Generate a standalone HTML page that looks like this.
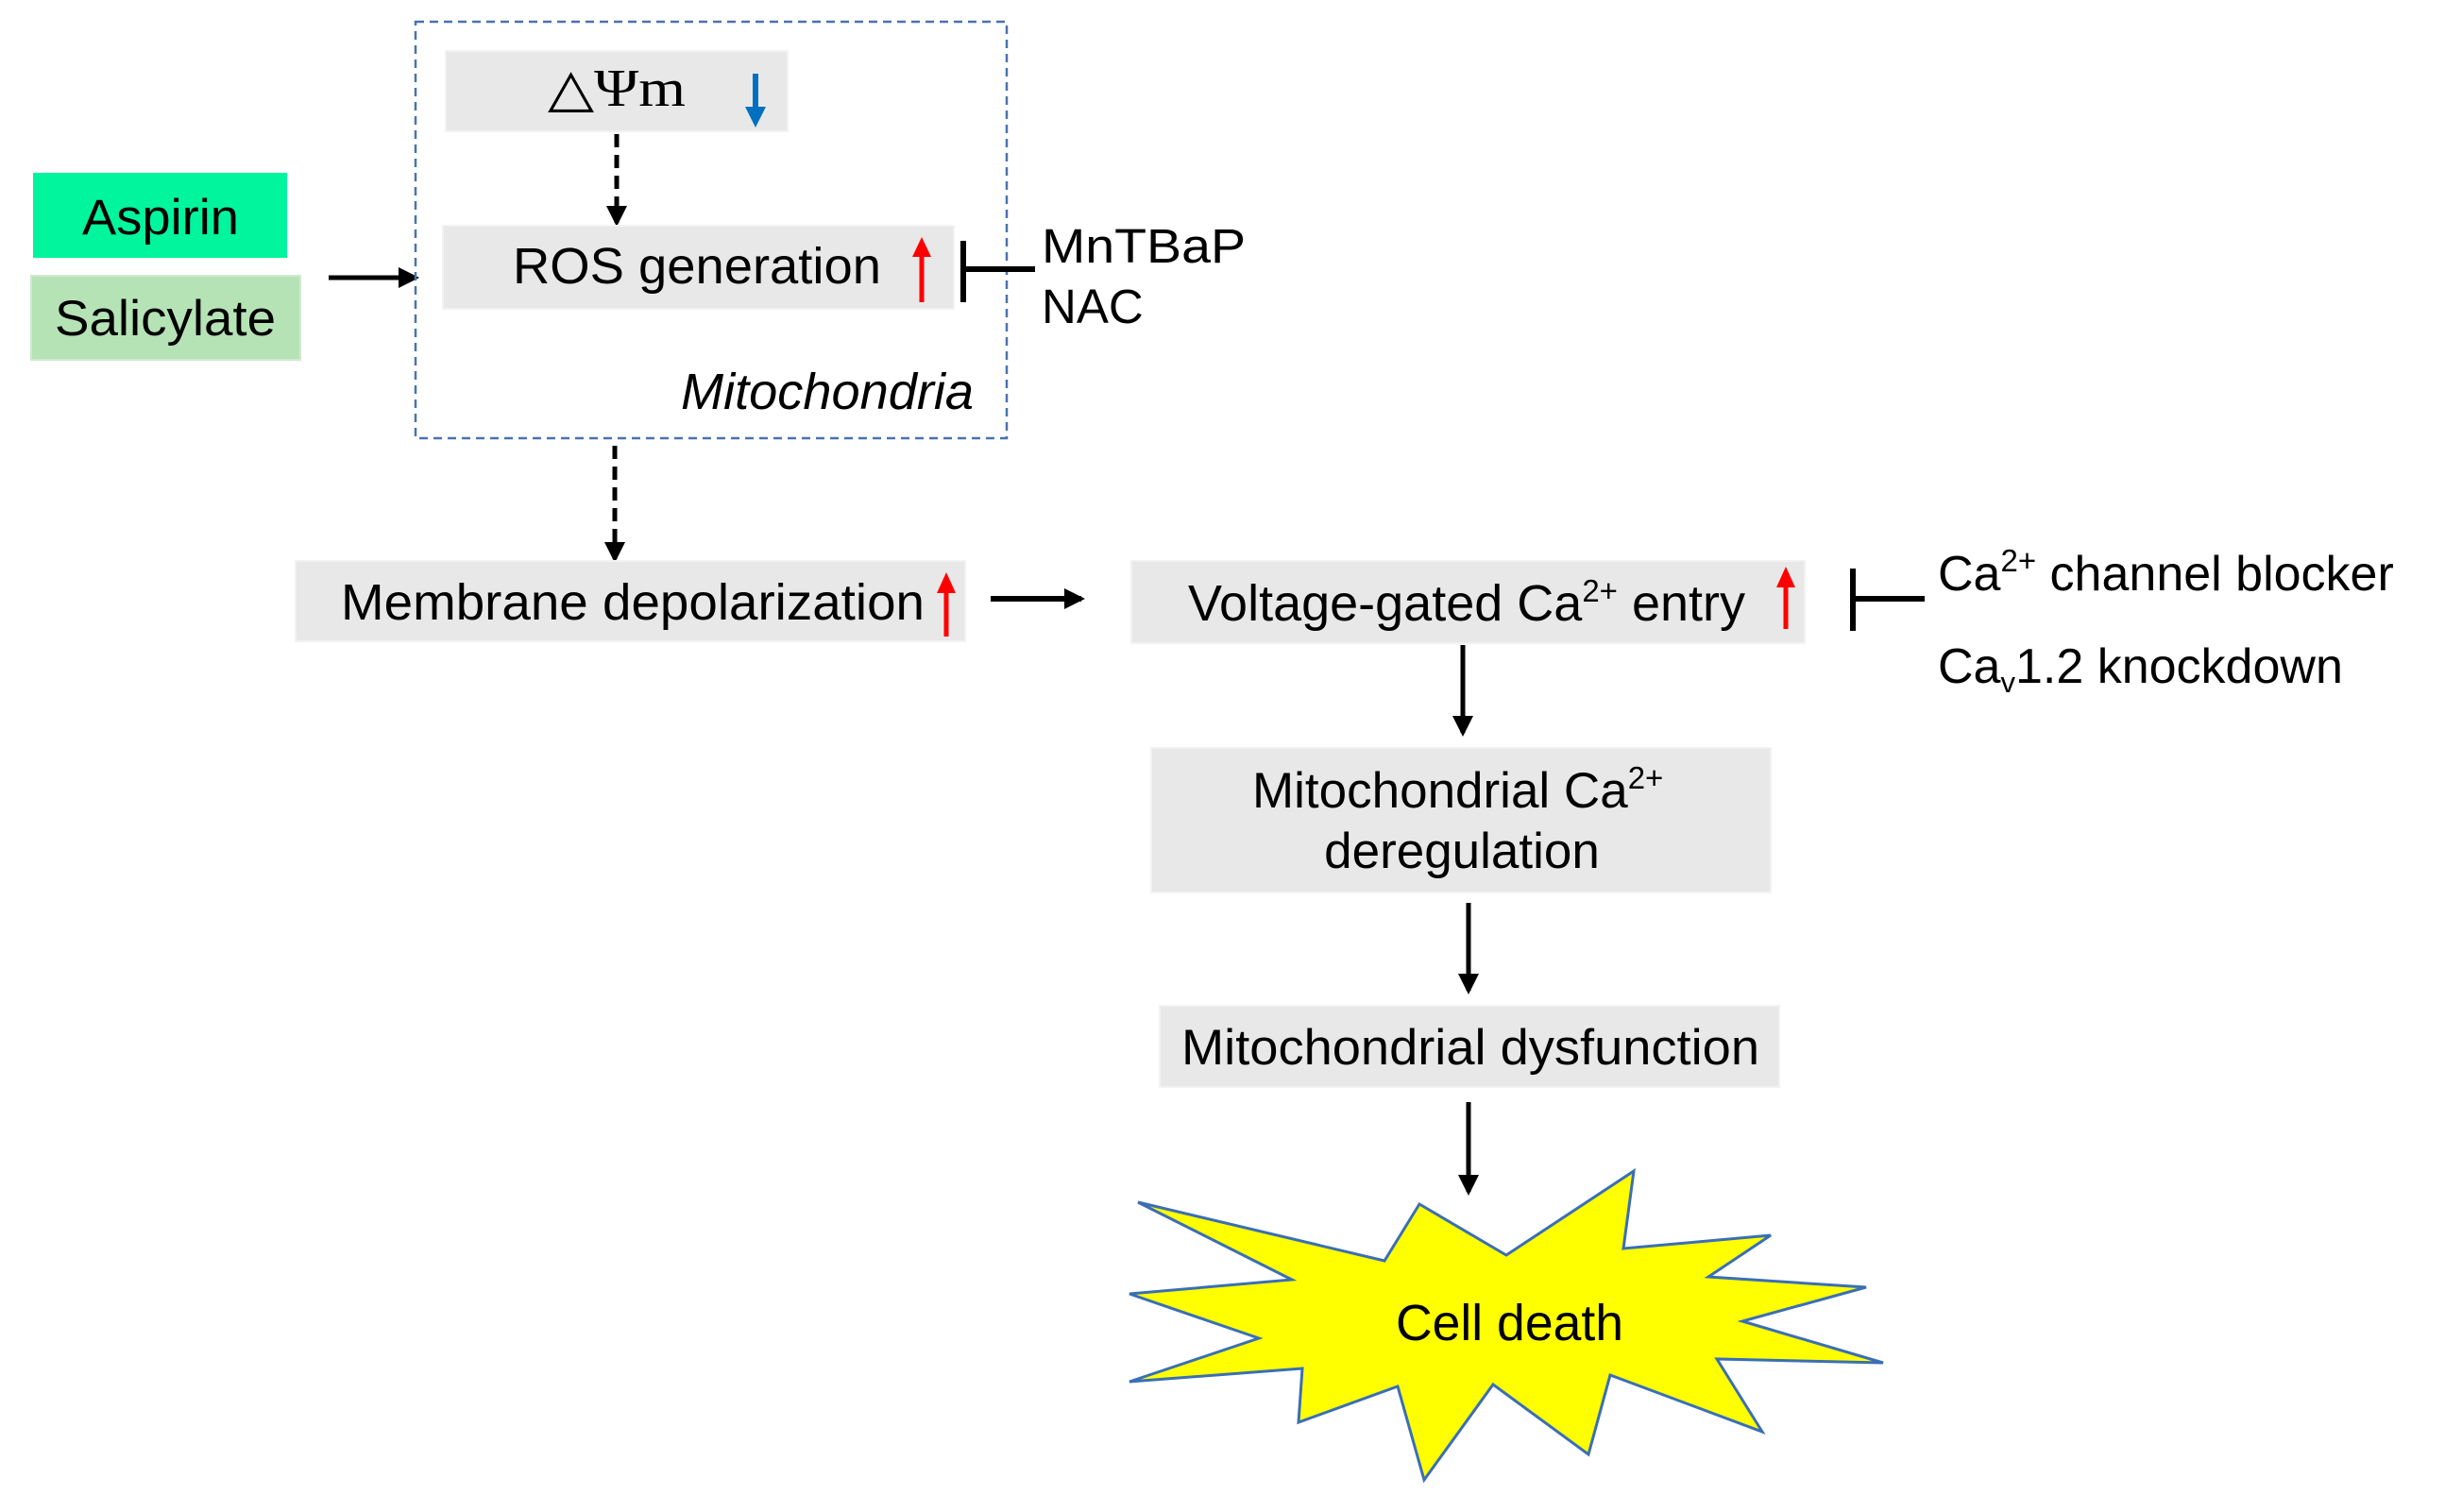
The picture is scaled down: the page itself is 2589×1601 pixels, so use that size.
<!DOCTYPE html>
<html><head><meta charset="utf-8"><style>
html,body{margin:0;padding:0;background:#fff;}
svg{display:block;font-family:"Liberation Sans",Arial,sans-serif;}
</style></head><body>
<svg width="2589" height="1601" viewBox="0 0 2589 1601" xmlns="http://www.w3.org/2000/svg">
<defs>
<marker id="ahL" markerWidth="22" markerHeight="22" refX="18" refY="11" orient="auto" markerUnits="userSpaceOnUse">
<path d="M0,0 L22,11 L0,22 Z" fill="#000"/></marker>
</defs>
<rect width="2589" height="1601" fill="#fff"/>

<!-- Aspirin / Salicylate -->
<rect x="35" y="183" width="269" height="90" fill="#00F59D"/>
<text x="87" y="248" font-size="53" textLength="166" lengthAdjust="spacingAndGlyphs">Aspirin</text>
<rect x="33" y="292" width="285" height="89" fill="#B6E3B6" stroke="#cfe9cf" stroke-width="2"/>
<text x="58" y="355" font-size="53" textLength="234" lengthAdjust="spacingAndGlyphs">Salicylate</text>
<line x1="348" y1="294" x2="440" y2="294" stroke="#000" stroke-width="5" marker-end="url(#ahL)"/>

<!-- Mitochondria box -->
<rect x="440" y="23" width="626" height="441" fill="none" stroke="#4a72b0" stroke-width="2.5" stroke-dasharray="9,6"/>
<rect x="472" y="54" width="362" height="85" fill="#e8e8e8" stroke="#f2f2f2" stroke-width="2"/>
<text x="580" y="112" font-size="56" font-family="'Liberation Serif','DejaVu Serif',serif" textLength="146" lengthAdjust="spacingAndGlyphs">△Ψm</text>
<line x1="800" y1="78" x2="800" y2="115" stroke="#0070C0" stroke-width="6"/>
<polygon points="789,113 811,113 800,135" fill="#0070C0"/>
<line x1="653" y1="142" x2="653" y2="236" stroke="#000" stroke-width="5" stroke-dasharray="14,8" marker-end="url(#ahL)"/>
<rect x="469" y="239" width="541" height="88" fill="#e8e8e8" stroke="#f2f2f2" stroke-width="2"/>
<text x="543" y="300" font-size="54" textLength="390" lengthAdjust="spacingAndGlyphs">ROS generation</text>
<line x1="976" y1="320" x2="976" y2="270" stroke="#ff0000" stroke-width="5"/>
<polygon points="966,272 986,272 976,251" fill="#ff0000"/>
<line x1="1020" y1="255" x2="1020" y2="320" stroke="#000" stroke-width="6"/>
<line x1="1020" y1="285" x2="1096" y2="285" stroke="#000" stroke-width="6"/>
<text x="1103" y="278" font-size="51" textLength="216" lengthAdjust="spacingAndGlyphs">MnTBaP</text>
<text x="1103" y="342" font-size="51">NAC</text>
<text x="721" y="433" font-size="54" font-style="italic" textLength="310" lengthAdjust="spacingAndGlyphs">Mitochondria</text>

<line x1="651" y1="472" x2="651" y2="592" stroke="#000" stroke-width="5" stroke-dasharray="14,8" marker-end="url(#ahL)"/>

<!-- Membrane -->
<rect x="313" y="594" width="709" height="85" fill="#e8e8e8" stroke="#f2f2f2" stroke-width="2"/>
<text x="361" y="656" font-size="54" textLength="618" lengthAdjust="spacingAndGlyphs">Membrane depolarization</text>
<line x1="1002" y1="674" x2="1002" y2="626" stroke="#ff0000" stroke-width="5"/>
<polygon points="992,628 1012,628 1002,606" fill="#ff0000"/>
<line x1="1049" y1="634" x2="1145" y2="634" stroke="#000" stroke-width="6" marker-end="url(#ahL)"/>

<!-- Voltage -->
<rect x="1198" y="594" width="713" height="87" fill="#e8e8e8" stroke="#f2f2f2" stroke-width="2"/>
<text x="1258" y="657" font-size="54">Voltage-gated Ca<tspan font-size="33" dy="-20">2+</tspan><tspan dy="20"> entry</tspan></text>
<line x1="1891" y1="666" x2="1891" y2="620" stroke="#ff0000" stroke-width="5"/>
<polygon points="1881,622 1901,622 1891,600" fill="#ff0000"/>
<line x1="1962" y1="602" x2="1962" y2="668" stroke="#000" stroke-width="6"/>
<line x1="1962" y1="634" x2="2038" y2="634" stroke="#000" stroke-width="6"/>
<text x="2052" y="625" font-size="52">Ca<tspan font-size="33" dy="-20">2+</tspan><tspan dy="20"> channel blocker</tspan></text>
<text x="2052" y="723" font-size="52">Ca<tspan font-size="31" dy="10">v</tspan><tspan dy="-10">1.2 knockdown</tspan></text>

<line x1="1549" y1="683" x2="1549" y2="776" stroke="#000" stroke-width="5" marker-end="url(#ahL)"/>

<rect x="1219" y="792" width="656" height="153" fill="#e8e8e8" stroke="#f2f2f2" stroke-width="2"/>
<text x="1326" y="855" font-size="53">Mitochondrial Ca<tspan font-size="33" dy="-20">2+</tspan></text>
<text x="1548" y="919" font-size="53" text-anchor="middle">deregulation</text>

<line x1="1555" y1="956" x2="1555" y2="1049" stroke="#000" stroke-width="5" marker-end="url(#ahL)"/>

<rect x="1228" y="1065" width="656" height="86" fill="#e8e8e8" stroke="#f2f2f2" stroke-width="2"/>
<text x="1251" y="1127" font-size="53" textLength="612" lengthAdjust="spacingAndGlyphs">Mitochondrial dysfunction</text>

<line x1="1555" y1="1167" x2="1555" y2="1262" stroke="#000" stroke-width="5" marker-end="url(#ahL)"/>

<polygon points="1205,1273 1368,1355 1196,1370 1333,1417 1196,1463 1379,1449 1375,1506 1480,1468 1508,1567 1581,1466 1682,1540 1705,1456 1866,1516 1818,1439 1994,1443 1845,1399 1976,1363 1809,1352 1875,1308 1719,1322 1730,1240 1595,1329 1503,1275 1466,1335" fill="#ffff00" stroke="#3a6fb5" stroke-width="3"/>
<text x="1478" y="1419" font-size="54" textLength="241" lengthAdjust="spacingAndGlyphs">Cell death</text>
</svg>
</body></html>
